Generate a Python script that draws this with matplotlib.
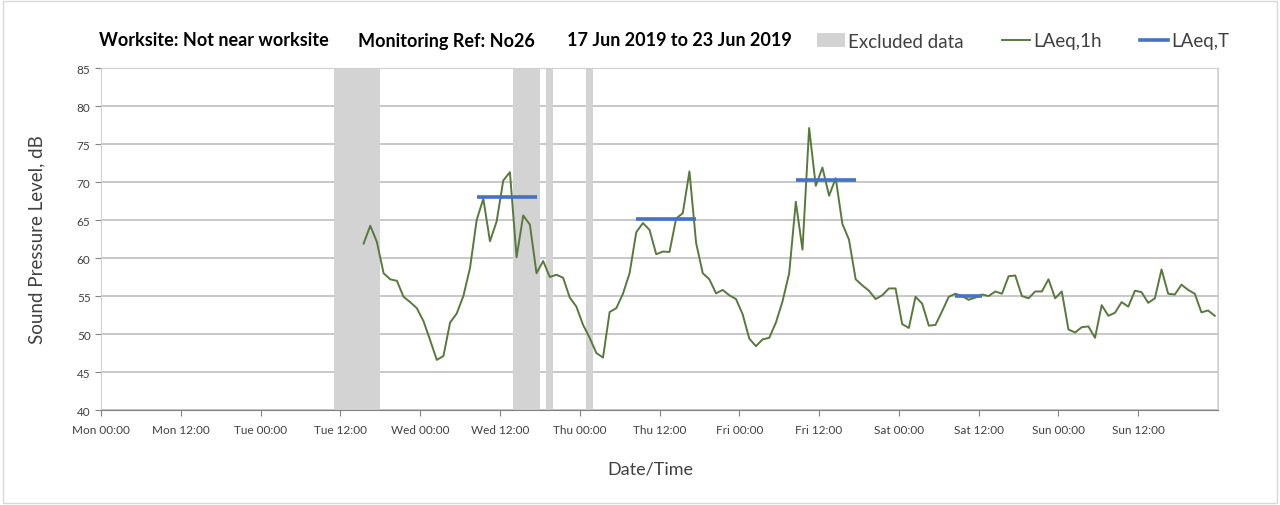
import numpy as np
import matplotlib.pyplot as plt
from matplotlib.patches import Patch, Rectangle
from matplotlib.lines import Line2D

plt.rcParams['font.family'] = ['Lato', 'DejaVu Sans']

# Hourly LAeq,1h values (dB), first value is the hour starting Tue 15:00 (hour 39 of the week)
first_hour = 39
laeq_1h = [
    61.9, 64.25, 62.1, 58.0, 57.2, 57.0, 54.9, 54.2, 53.4, 51.7,
    49.2, 46.6, 47.1, 51.5, 52.7, 55.0, 58.7, 65.0, 67.8, 62.2,
    64.8, 70.2, 71.3, 60.1, 65.6, 64.4, 58.0, 59.6, 57.5, 57.8,
    57.4, 54.8, 53.6, 51.2, 49.5, 47.5, 46.9, 52.9, 53.4, 55.3,
    58.0, 63.4, 64.6, 63.7, 60.5, 60.85, 60.8, 65.2, 65.9, 71.4,
    62.0, 58.0, 57.2, 55.35, 55.8, 55.1, 54.6, 52.6, 49.4, 48.4,
    49.3, 49.5, 51.5, 54.3, 58.0, 67.4, 61.1, 77.1, 69.5, 71.9,
    68.2, 70.5, 64.5, 62.4, 57.2, 56.4, 55.7, 54.6, 55.1, 56.0,
    56.0, 51.3, 50.8, 54.9, 54.0, 51.1, 51.2, 53.0, 54.9, 55.3,
    55.0, 54.5, 54.8, 55.2, 55.0, 55.6, 55.3, 57.6, 57.7, 55.0,
    54.7, 55.6, 55.6, 57.2, 54.7, 55.6, 50.6, 50.2, 50.9, 51.0,
    49.5, 53.8, 52.4, 52.8, 54.2, 53.6, 55.7, 55.5, 54.1, 54.7,
    58.5, 55.3, 55.2, 56.5, 55.8, 55.3, 52.85, 53.1, 52.4,
]

# Excluded periods (start hour, end hour)
excluded_start = [35, 62, 67, 73]
excluded_end = [42, 66, 68, 74]

# LAeq,T periods: start hour, end hour, level
period_start = [56, 80, 104, 128]
period_end = [66, 90, 114, 133]
period_level = [68.0, 65.2, 70.3, 55.0]

days = ['Mon', 'Tue', 'Wed', 'Thu', 'Fri', 'Sat', 'Sun']

green = '#577a3c'
blue = '#4472c4'
grey_fill = '#d3d3d3'
text_col = '#404040'

fig = plt.figure(figsize=(12.8, 5.06), dpi=100)
ax = fig.add_axes([0.0789, 0.1877, 0.8727, 0.6759])

for s, e in zip(excluded_start, excluded_end):
    ax.axvspan(s, e, color=grey_fill, lw=0, zorder=1)

hours = first_hour + np.arange(len(laeq_1h)) + 0.5
ax.plot(hours, laeq_1h, color=green, lw=1.4, zorder=3)

for s, e, lv in zip(period_start, period_end, period_level):
    ax.hlines(lv, s + 0.5, e - 0.5, color=blue, lw=2.6, zorder=4)

ax.set_xlim(0, 168)
ax.set_ylim(40, 85)

# x ticks every 12 hours, grid at day boundaries
ax.set_xticks(np.arange(0, 168, 12))
ax.set_xticklabels([f"{days[h // 24]} {h % 24:02d}:00" for h in range(0, 168, 12)])
ax.set_xticks(np.arange(0, 169, 24), minor=True)
ax.tick_params(axis='x', which='minor', length=0)
ax.tick_params(axis='x', which='major', length=4, color='#808080', labelsize=8.5,
               labelcolor=text_col, pad=6)
ax.grid(True, axis='x', which='minor', color='#d9d9d9', lw=1.2)

ax.set_yticks(np.arange(40, 86, 5))
ax.tick_params(axis='y', length=4, color='#808080', labelsize=8.5, labelcolor=text_col)
ax.grid(True, axis='y', which='major', color='#bfbfbf', lw=1.2)
ax.set_axisbelow(True)

for side in ['top', 'right', 'left']:
    ax.spines[side].set_color('#d0d0d0')
ax.spines['bottom'].set_color('#808080')

ax.set_xlabel('Date/Time', fontsize=13, color=text_col)
ax.xaxis.set_label_coords(0.4915, -0.148)
ax.set_ylabel('Sound Pressure Level, dB', fontsize=13.5, color=text_col)
ax.yaxis.set_label_coords(-0.05, 0.5)

# header
hy = 1 - 41 / 506
fig.text(99 / 1280, hy, 'Worksite: Not near worksite', fontsize=13,
         fontweight='bold', va='center', ha='left')
fig.text(358 / 1280, hy, 'Monitoring Ref: No26', fontsize=13,
         fontweight='bold', va='center', ha='left')
fig.text(567 / 1280, hy, '17 Jun 2019 to 23 Jun 2019', fontsize=13,
         fontweight='bold', va='center', ha='left')

handles = [Patch(facecolor=grey_fill, edgecolor='none'),
           Line2D([], [], color=green, lw=1.4),
           Line2D([], [], color=blue, lw=2.6)]
fig.legend(handles, ['Excluded data', 'LAeq,1h', 'LAeq,T'], loc='center',
           bbox_to_anchor=(1023 / 1280, 1 - 42 / 506), ncol=3, frameon=False,
           fontsize=13.5, handlelength=1.5, handletextpad=0.2, columnspacing=2.0,
           labelcolor=text_col)

fig.patches.append(Rectangle((0.002, 0.003), 0.996, 0.994, transform=fig.transFigure,
                             fill=False, edgecolor='#d9d9d9', lw=1))

fig.savefig('out.png', dpi=100)
